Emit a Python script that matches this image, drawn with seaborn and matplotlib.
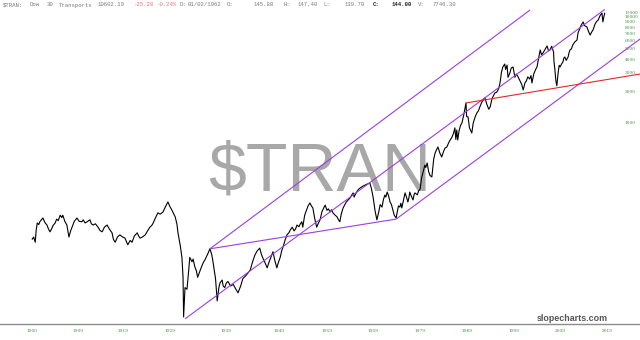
import numpy as np
import pandas as pd
import matplotlib
matplotlib.use("Agg")
import matplotlib.pyplot as plt
import matplotlib.transforms as mtrans
import seaborn as sns

# ---------------- data ----------------
series = [
    (1901.2, 80), (1901.5, 84), (1901.8, 75), (1902.0, 98), (1902.2, 114), (1902.5, 110),
    (1902.7, 117), (1903.0, 122), (1903.3, 127), (1903.7, 115), (1904.1, 109), (1904.4, 100),
    (1904.7, 94), (1905.0, 100), (1905.3, 108), (1905.7, 114), (1906.0, 124), (1906.3, 120),
    (1906.7, 135), (1907.0, 128), (1907.2, 135), (1907.6, 118), (1908.0, 109), (1908.4, 84),
    (1908.7, 95), (1909.0, 104), (1909.5, 118), (1910.1, 127), (1910.6, 118), (1911.2, 117),
    (1911.5, 122), (1911.9, 114), (1912.5, 118), (1913.0, 122), (1913.3, 112), (1913.7, 109),
    (1914.2, 112), (1914.8, 104), (1915.2, 97), (1915.7, 94), (1916.2, 104), (1916.8, 109),
    (1917.3, 100), (1917.9, 92), (1918.2, 80), (1918.6, 75), (1919.1, 84), (1919.6, 88),
    (1920.2, 84), (1920.7, 82), (1921.0, 76), (1921.3, 71), (1921.8, 78), (1922.2, 75),
    (1922.7, 86), (1923.3, 92), (1923.6, 86), (1923.9, 82), (1924.4, 84), (1925.0, 88),
    (1925.5, 96), (1926.0, 104), (1926.4, 108), (1926.7, 114), (1927.2, 128), (1927.7, 142),
    (1928.2, 138), (1928.8, 145), (1929.2, 160), (1929.7, 180), (1930.0, 165), (1930.4, 151),
    (1930.7, 140), (1931.0, 130), (1931.3, 112), (1931.5, 92), (1931.9, 70), (1932.2, 54),
    (1932.4, 35), (1932.5, 14.8), (1932.75, 28), (1933.1, 27), (1933.4, 40), (1933.6, 54),
    (1934.0, 49), (1934.2, 52), (1934.5, 44), (1934.8, 40), (1935.0, 35), (1935.4, 40),
    (1935.7, 44), (1936.0, 48), (1936.3, 51), (1936.8, 58), (1937.2, 65), (1937.5, 58),
    (1937.7, 51), (1938.0, 40), (1938.2, 34), (1938.5, 21), (1938.8, 28), (1939.0, 31),
    (1939.4, 33), (1939.6, 29), (1939.9, 28), (1940.2, 31), (1940.5, 32), (1941.0, 29),
    (1941.5, 30), (1942.0, 27), (1942.4, 25), (1942.9, 29), (1943.3, 34), (1943.8, 36),
    (1944.2, 38), (1944.7, 41), (1945.2, 50), (1945.6, 57), (1946.0, 62), (1946.5, 66),
    (1946.8, 58), (1947.1, 53), (1947.5, 48), (1947.9, 43), (1948.2, 48), (1948.4, 51),
    (1948.7, 56), (1949.0, 61), (1949.4, 50), (1949.8, 43), (1950.1, 48), (1950.5, 54),
    (1950.8, 62), (1951.1, 68), (1951.5, 78), (1951.9, 88), (1952.3, 92), (1952.6, 98),
    (1953.0, 104), (1953.4, 96), (1953.7, 100), (1954.0, 109), (1954.4, 105), (1954.7, 112),
    (1955.0, 117), (1955.2, 104), (1955.6, 135), (1956.0, 151), (1956.3, 165), (1956.7, 176),
    (1957.0, 165), (1957.3, 158), (1957.7, 125), (1958.1, 104), (1958.4, 112), (1958.8, 122),
    (1959.2, 145), (1959.5, 155), (1959.9, 168), (1960.3, 150), (1960.6, 155), (1961.0, 145),
    (1961.3, 152), (1961.6, 142), (1962.0, 136), (1962.5, 130), (1962.8, 122), (1963.1, 117),
    (1963.4, 138), (1963.8, 158), (1964.2, 170), (1964.5, 180), (1964.9, 188), (1965.3, 196),
    (1965.7, 210), (1966.0, 219), (1966.2, 200), (1966.4, 209), (1966.8, 225), (1967.1, 235),
    (1967.5, 244), (1967.9, 250), (1968.2, 255), (1968.6, 260), (1969.0, 265), (1969.3, 268),
    (1969.6, 272), (1969.9, 245), (1970.3, 200), (1970.7, 150), (1971.1, 122), (1971.5, 145),
    (1971.8, 170), (1972.2, 161), (1972.5, 190), (1972.8, 209), (1973.0, 200), (1973.3, 223),
    (1973.6, 205), (1973.9, 180), (1974.2, 170), (1974.5, 151), (1974.8, 135), (1975.2, 127),
    (1975.5, 150), (1975.7, 165), (1976.0, 161), (1976.2, 175), (1976.4, 158), (1976.8, 190),
    (1977.1, 219), (1977.4, 200), (1977.7, 180), (1977.9, 195), (1978.1, 223), (1978.4, 205),
    (1978.8, 188), (1979.0, 210), (1979.2, 219), (1979.7, 210), (1980.0, 230), (1980.3, 238),
    (1980.6, 300), (1980.9, 338), (1981.3, 400), (1981.5, 380), (1981.8, 420), (1982.1, 350),
    (1982.4, 320), (1982.8, 310), (1983.0, 380), (1983.2, 460), (1983.5, 522), (1983.8, 560),
    (1984.1, 594), (1984.5, 520), (1984.9, 478), (1985.3, 540), (1985.6, 580), (1986.0, 594),
    (1986.3, 640), (1986.6, 680), (1987.1, 738), (1987.4, 800), (1987.7, 900), (1987.9, 700),
    (1988.1, 859), (1988.3, 691), (1988.6, 850), (1988.9, 950), (1989.2, 1000), (1989.6, 1200),
    (1990.06, 1545), (1990.2, 1150), (1990.5, 1140), (1990.8, 900), (1991.3, 805), (1991.6, 1000),
    (1992.0, 1140), (1992.4, 1250), (1992.7, 1300), (1993.0, 1415), (1993.5, 1600), (1994.1, 1720),
    (1994.5, 1500), (1994.9, 1350), (1995.2, 1415), (1995.6, 1700), (1996.0, 1850), (1996.2, 1920),
    (1996.6, 1950), (1997.0, 2100), (1997.3, 2385), (1997.6, 3000), (1997.9, 3375), (1998.3, 3600),
    (1998.5, 3200), (1998.8, 3520), (1999.0, 2700), (1999.4, 2960), (1999.7, 3300), (2000.1, 3375),
    (2000.5, 2700), (2000.8, 2900), (2001.2, 2720), (2001.6, 2500), (2002.0, 2300), (2002.3, 2050),
    (2002.7, 2400), (2003.0, 2500), (2003.3, 2720), (2003.7, 2600), (2004.0, 2800), (2004.2, 2385),
    (2004.6, 2900), (2005.0, 3200), (2005.3, 3375), (2005.7, 4200), (2006.0, 4890), (2006.3, 4400),
    (2006.6, 4575), (2007.0, 4900), (2007.5, 5330), (2007.8, 4800), (2008.1, 4890), (2008.5, 5300),
    (2008.9, 4680), (2009.0, 3800), (2009.2, 3160), (2009.4, 2500), (2009.6, 2240), (2009.9, 3030),
    (2010.1, 3500), (2010.3, 3375), (2010.6, 3600), (2010.9, 3760), (2011.1, 4100), (2011.3, 4200),
    (2011.6, 3900), (2012.0, 4200), (2012.2, 4600), (2012.4, 4890), (2012.7, 5000), (2013.0, 5450),
    (2013.4, 5800), (2013.9, 6070), (2014.1, 7060), (2014.5, 7800), (2014.8, 8400), (2015.2, 8980),
    (2015.5, 8300), (2016.0, 8050), (2016.4, 7200), (2016.7, 6760), (2017.0, 7200), (2017.3, 7540),
    (2017.7, 8500), (2018.0, 9000), (2018.4, 9370), (2018.8, 10300), (2019.2, 10900), (2019.4, 8980),
    (2019.6, 10000), (2019.8, 10900),
]
years = [p[0] for p in series]
prices = [p[1] for p in series]

# trend lines (start/end in data units)
purple_lines = [
    ([1937.2, 2003.8], [65, 11640]),     # upper channel
    ([1932.75, 2019.8], [14.2, 11780]),  # middle channel
    ([1975.2, 2027.3], [124, 6195]),     # lower channel
    ([1937.2, 1975.2], [65, 124]),       # connector
]
red_line = ([1990.06, 2027.3], [1545, 2897])

xtick_years = [1900, 1909, 1919, 1929, 1939, 1949, 1959, 1969, 1979, 1989, 1999, 2009, 2019]
xtick_labels = [str(y) for y in xtick_years]
ytick_values = [1000, 2000, 3000, 4000, 5000, 6000, 7000, 8000, 9000, 10000, 11000]
ytick_labels = [str(v) for v in ytick_values]

# ---------------- scale definition (irregular bar-index time axis) ----------------
anchor_years = np.array([1880, 1900, 1909, 1919, 1929, 1939, 1949, 1959, 1969, 1979, 1989,
                         1999, 2009, 2019, 2040], dtype=float)
anchor_px = np.array([26 - 20 * 5.11, 26, 72, 117, 164, 220, 273, 321, 367, 414, 461,
                      508, 554, 601, 601 + 21 * 4.7])


def fwd(x):
    return np.interp(x, anchor_years, anchor_px)


def inv(p):
    return np.interp(p, anchor_px, anchor_years)


sns.set_theme(style="white")
plt.rcParams["font.family"] = ["DejaVu Sans"]

W, H = 640, 340
fig = plt.figure(figsize=(6.4, 3.4), dpi=100)
ax = fig.add_axes([0, 16 / H, 1, 324 / H])
ax.set_facecolor("white")

df = pd.DataFrame({"year": years, "price": prices})

# watermark
ax.text(0.5, 1 - 190 / 324, "$TRAN", transform=ax.transAxes, ha="center", va="baseline",
        fontsize=49, color="#a8a8a8", family="Liberation Sans", zorder=0)

sns.lineplot(data=df, x="year", y="price", ax=ax, color="black", linewidth=0.8,
             sort=False, estimator=None, zorder=3)

for xs, ys in purple_lines:
    ax.plot(xs, ys, color="#9b3fe0", linewidth=0.8, zorder=4, solid_capstyle="butt")
ax.plot(red_line[0], red_line[1], color="#e8262a", linewidth=0.8, zorder=4)

ax.set_xscale("function", functions=(fwd, inv))
ax.set_yscale("log")
ax.set_xlim(inv(0.0), inv(640.0))
ax.set_ylim(10 ** (3 - 201 / 106), 10 ** (3 + 123 / 106))

ax.set_xticks(xtick_years)
ax.set_xticklabels(xtick_labels)
ax.yaxis.tick_right()
ax.set_yticks(ytick_values)
ax.set_yticklabels(ytick_labels)
ax.minorticks_off()
ax.tick_params(axis="x", length=0, pad=3.5, labelsize=3.2, labelcolor="#3f913f")
ax.tick_params(axis="y", length=0, pad=-11.0, labelsize=3.2, labelcolor="#3f913f")
for lab in ax.get_xticklabels():
    lab.set_transform(lab.get_transform() + mtrans.ScaledTranslation(6 / 100, 0, fig.dpi_scale_trans))
    lab.set_family("DejaVu Serif")
for lab in ax.get_yticklabels():
    lab.set_family("DejaVu Serif")
ax.set_xlabel("")
ax.set_ylabel("")
ax.grid(False)
for s in ["top", "left", "right"]:
    ax.spines[s].set_visible(False)
ax.spines["bottom"].set_color("#8c8c8c")
ax.spines["bottom"].set_linewidth(1.0)

# header
hy = 1 - 5 / H
gray = "#7a7a7a"
hdr = [
    (3, "$TRAN:", gray, "normal"),
    (30, "Dow", gray, "normal"),
    (47, "30", gray, "normal"),
    (59, "Transports", gray, "normal"),
    (98, "10602.19", gray, "normal"),
    (133, "-25.28", "#f07070", "normal"),
    (156, "-0.24%", "#f07070", "normal"),
    (179, "D:", gray, "normal"),
    (188, "01/02/1962", gray, "normal"),
    (227, "O:", gray, "normal"),
    (254, "145.80", gray, "normal"),
    (283, "H:", gray, "normal"),
    (298, "147.40", gray, "normal"),
    (323, "L:", gray, "normal"),
    (345, "139.70", gray, "normal"),
    (373, "C:", "#222222", "bold"),
    (392, "144.00", "#222222", "bold"),
    (418, "V:", gray, "normal"),
    (433, "7746.30", gray, "normal"),
]
for x, t, c, w in hdr:
    fig.text(x / W, hy, t, ha="left", va="center", fontsize=4.1, color=c,
             fontweight=w, family="Liberation Mono")

fig.text(572 / W, 1 - 318.5 / H, "slopecharts.com", ha="center", va="center",
         fontsize=6.4, fontweight="bold", color="#555555", family="Liberation Sans")

fig.savefig("out.png", dpi=100)
